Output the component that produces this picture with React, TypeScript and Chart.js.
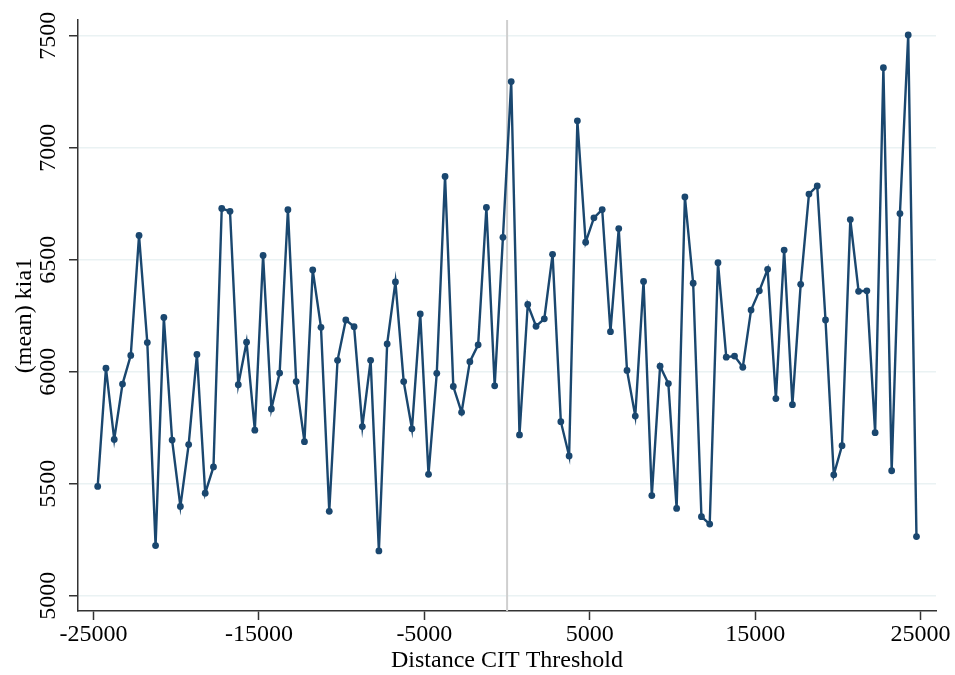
import React, { useEffect, useRef } from 'react';
import { Chart, registerables } from 'chart.js';

Chart.register(...registerables);

// Bin centres of the running variable (Distance CIT Threshold)
const xBins = [
  -24750, -24250, -23750, -23250, -22750, -22250, -21750, -21250, -20750, -20250,
  -19750, -19250, -18750, -18250, -17750, -17250, -16750, -16250, -15750, -15250,
  -14750, -14250, -13750, -13250, -12750, -12250, -11750, -11250, -10750, -10250,
  -9750, -9250, -8750, -8250, -7750, -7250, -6750, -6250, -5750, -5250,
  -4750, -4250, -3750, -3250, -2750, -2250, -1750, -1250, -750, -250,
  250, 750, 1250, 1750, 2250, 2750, 3250, 3750, 4250, 4750,
  5250, 5750, 6250, 6750, 7250, 7750, 8250, 8750, 9250, 9750,
  10250, 10750, 11250, 11750, 12250, 12750, 13250, 13750, 14250, 14750,
  15250, 15750, 16250, 16750, 17250, 17750, 18250, 18750, 19250, 19750,
  20250, 20750, 21250, 21750, 22250, 22750, 23250, 23750, 24250, 24750,
];

// (mean) kia1 in each bin
const kiaMeans = [
  5488, 6016, 5698, 5945, 6073, 6608, 6130, 5224, 6242, 5695,
  5399, 5675, 6077, 5458, 5575, 6729, 6716, 5942, 6132, 5739,
  6519, 5834, 5994, 6723, 5956, 5688, 6454, 6198, 5377, 6051,
  6231, 6201, 5755, 6051, 5200, 6124, 6401, 5956, 5745, 6258,
  5542, 5993, 6872, 5934, 5819, 6045, 6120, 6733, 5937, 6600,
  7295, 5718, 6300, 6203, 6236, 6524, 5777, 5624, 7120, 6578,
  6687, 6724, 6179, 6639, 6006, 5802, 6403, 5447, 6025, 5947,
  5390, 6780, 6395, 5353, 5320, 6487, 6065, 6070, 6020, 6275,
  6361, 6457, 5880, 6543, 5853, 6390, 6793, 6829, 6231, 5540,
  5670, 6679, 6359, 6361, 5728, 7357, 5558, 6706, 7503, 5264,
];

const xTickValues = [-25000, -15000, -5000, 5000, 15000, 25000];
const yTickValues = [5000, 5500, 6000, 6500, 7000, 7500];
const thresholdValue = 0;

const xTitle = 'Distance CIT Threshold';
const yTitle = '(mean) kia1';

const NAVY = '#1a476f';
const AXIS = '#333333';
const GRID = '#eaf2f3';
const REFLINE = '#cfcfcf';
const FONT = "'Liberation Serif', 'Times New Roman', serif";

const refLinePlugin = {
  id: 'refLine',
  beforeDatasetsDraw(chart: any) {
    const { ctx, chartArea, scales } = chart;
    const px = scales.x.getPixelForValue(thresholdValue);
    ctx.save();
    ctx.strokeStyle = REFLINE;
    ctx.lineWidth = 2;
    ctx.beginPath();
    ctx.moveTo(px, chartArea.top);
    ctx.lineTo(px, chartArea.bottom);
    ctx.stroke();
    ctx.restore();
  },
};

export default function App() {
  const canvasRef = useRef<HTMLCanvasElement | null>(null);

  useEffect(() => {
    const canvas = canvasRef.current;
    if (!canvas) return;
    const chart = new Chart(canvas, {
      type: 'line',
      data: {
        datasets: [
          {
            data: xBins.map((x, i) => ({ x, y: kiaMeans[i] })),
            borderColor: NAVY,
            backgroundColor: NAVY,
            borderWidth: 2.4,
            pointRadius: 3.4,
            pointHoverRadius: 3.4,
            pointBorderWidth: 0,
            pointBackgroundColor: NAVY,
            tension: 0,
            fill: false,
          },
        ],
      },
      options: {
        animation: false,
        responsive: false,
        devicePixelRatio: 1,
        layout: { padding: { top: 20, right: 19, left: 0, bottom: 0 } },
        plugins: {
          legend: { display: false },
          tooltip: { enabled: false },
        },
        scales: {
          x: {
            type: 'linear',
            min: -25940,
            max: 25930,
            afterBuildTicks: (s: any) => {
              s.ticks = xTickValues.map((v) => ({ value: v }));
            },
            afterFit: (s: any) => {
              s.height = 64;
            },
            grid: {
              display: true,
              drawOnChartArea: false,
              drawTicks: true,
              tickLength: 9,
              tickColor: AXIS,
              tickWidth: 1.5,
            },
            border: { display: true, color: AXIS, width: 1.5 },
            ticks: {
              font: { family: FONT, size: 24 },
              color: '#000',
              padding: 0,
              maxRotation: 0,
              minRotation: 0,
              callback: (v: any) => String(v),
            },
            title: {
              display: true,
              text: xTitle,
              font: { family: FONT, size: 24 },
              color: '#000',
              padding: { top: 0, bottom: 0 },
            },
          },
          y: {
            type: 'linear',
            min: 4932,
            max: 7570,
            afterBuildTicks: (s: any) => {
              s.ticks = yTickValues.map((v) => ({ value: v }));
            },
            afterFit: (s: any) => {
              s.width = 78;
            },
            grid: {
              display: true,
              drawOnChartArea: true,
              drawTicks: true,
              tickLength: 9,
              color: GRID,
              lineWidth: 1.5,
              tickColor: AXIS,
              tickWidth: 1.5,
            },
            border: { display: true, color: AXIS, width: 1.5 },
            ticks: {
              font: { family: FONT, size: 24 },
              color: '#000',
              padding: -4,
              minRotation: 90,
              maxRotation: 90,
              crossAlign: 'center',
              callback: (v: any) => String(v),
            },
            title: {
              display: true,
              text: yTitle,
              font: { family: FONT, size: 24 },
              color: '#000',
              padding: { top: 10, bottom: 0 },
            },
          },
        },
      },
      plugins: [refLinePlugin],
    } as any);
    return () => chart.destroy();
  }, []);

  return (
    <div style={{ position: 'absolute', left: 0, top: 0, width: 955, height: 675, background: '#fff' }}>
      <canvas ref={canvasRef} width={955} height={675} style={{ display: 'block', width: 955, height: 675 }} />
    </div>
  );
}
